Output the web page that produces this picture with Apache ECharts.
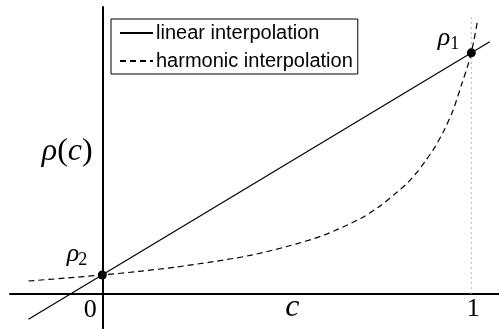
<!DOCTYPE html>
<html>
<head>
<meta charset="utf-8">
<script src="https://cdn.jsdelivr.net/npm/echarts@6/dist/echarts.min.js"></script>
<style>
  html, body { margin: 0; padding: 0; background: #fff; }
  #chart { width: 499px; height: 329px; }
</style>
</head>
<body>
<div id="chart"></div>
<script>
// values, rho scaled so that rho1 = 1
const linearC = [-0.2, 1.05];
const linearRho = [-0.105, 1.046];
const harmonicC = [-0.2, -0.1, 0, 0.1, 0.2, 0.3, 0.4, 0.5, 0.6, 0.7, 0.75, 0.8, 0.825, 0.85, 0.875, 0.9, 0.925, 0.95, 0.975, 0.99, 1.0, 1.016];
const harmonicRho = [0.054, 0.066, 0.079, 0.094, 0.112, 0.134, 0.16, 0.197, 0.244, 0.313, 0.362, 0.424, 0.458, 0.5, 0.55, 0.606, 0.675, 0.76, 0.875, 0.945, 1.0, 1.125];
const pointC = [0, 1];
const pointRho = [0.079, 1.0];
const pointNames = ['2', '1'];
const guideC = [1, 1];
const guideRho = [0, 1.149];
const xTicks = [0, 1];

const zip = (a, b) => a.map((v, i) => [v, b[i]]);

let chart = echarts.init(document.getElementById('chart'));
const serif = '"Liberation Serif", "DejaVu Serif", serif';
const sans = '"Liberation Sans", Arial, sans-serif';

let option = {
  animation: false,
  grid: { left: 10, right: 0, top: 7, bottom: 0, outerBoundsMode: 'none' },
  legend: {
    data: ['linear interpolation', 'harmonic interpolation'],
    orient: 'vertical',
    left: 111,
    top: 19,
    padding: [4, 5, 3, 8],
    itemGap: 8,
    itemWidth: 33,
    itemHeight: 20,
    backgroundColor: '#fff',
    borderColor: '#000',
    borderWidth: 1,
    borderRadius: 0,
    itemStyle: { color: 'rgba(0,0,0,0)', borderWidth: 0, opacity: 0 },
    textStyle: { fontFamily: sans, fontSize: 20, color: '#000', padding: [0, 0, 0, -2] }
  },
  xAxis: {
    type: 'value',
    min: -0.25,
    max: 1.075,
    splitLine: { show: false },
    axisTick: { show: false },
    axisLabel: { show: false },
    axisLine: { onZero: true, lineStyle: { color: '#000', width: 2 } }
  },
  yAxis: {
    type: 'value',
    min: -0.145,
    max: 1.19,
    splitLine: { show: false },
    axisTick: { show: false },
    axisLabel: { show: false },
    axisLine: { onZero: true, lineStyle: { color: '#000', width: 2 } }
  },
  series: [
    {
      name: 'guide',
      type: 'line',
      data: zip(guideC, guideRho),
      symbol: 'none',
      lineStyle: { color: '#b5b5b5', width: 1, type: [2, 3] },
      silent: true
    },
    {
      name: 'linear interpolation',
      type: 'line',
      data: zip(linearC, linearRho),
      symbol: 'none',
      lineStyle: { color: '#000', width: 1.2 },
      itemStyle: { color: '#000' }
    },
    {
      name: 'harmonic interpolation',
      type: 'line',
      data: zip(harmonicC, harmonicRho),
      symbol: 'none',
      smooth: 0.3,
      lineStyle: { color: '#000', width: 1.2, type: [6, 4] },
      itemStyle: { color: '#000' }
    },
    {
      name: 'points',
      type: 'scatter',
      data: zip(pointC, pointRho),
      symbolSize: 9,
      itemStyle: { color: '#000', opacity: 1 },
      z: 5
    }
  ]
};

chart.setOption(option);

// math-style labels, anchored to the data
function at(c, r) {
  return chart.convertToPixel({ gridIndex: 0 }, [c, r]);
}
function txt(x, y, text, size, align, italic) {
  return {
    type: 'text',
    x: x,
    y: y,
    style: {
      text: text,
      fill: '#000',
      font: (italic ? 'italic ' : '') + size + 'px ' + serif,
      align: align,
      verticalAlign: 'middle'
    },
    z: 10
  };
}

let p2 = at(pointC[0], pointRho[0]);
let p1 = at(pointC[1], pointRho[1]);
let cPos = at(0.515, 0);
let yName = at(0, 0);
let t0 = at(xTicks[0], 0);
let t1 = at(xTicks[1], 0);

let graphic = [
  txt(p2[0] - 23, p2[1] - 21, 'ρ', 26, 'right', true),
  txt(p2[0] - 24, p2[1] - 15, pointNames[0], 18, 'left', false),
  txt(p1[0] - 21, p1[1] - 15, 'ρ', 26, 'right', true),
  txt(p1[0] - 21, p1[1] - 9, pointNames[1], 18, 'left', false),
  txt(t0[0] - 12, t0[1] + 16, String(xTicks[0]), 26, 'center', false),
  txt(t1[0] + 2, t1[1] + 15, String(xTicks[1]), 26, 'center', false),
  txt(cPos[0], cPos[1] + 14, 'c', 32, 'center', true),
  {
    type: 'text',
    x: yName[0] - 35,
    y: 152,
    style: {
      text: '{i|ρ}{u|(}{i|c}{u|)}',
      align: 'center',
      verticalAlign: 'middle',
      rich: {
        i: { fontFamily: serif, fontStyle: 'italic', fontSize: 32, fill: '#000' },
        u: { fontFamily: serif, fontSize: 32, fill: '#000' }
      }
    },
    z: 10
  }
];

chart.setOption({ graphic: graphic });
</script>
</body>
</html>
